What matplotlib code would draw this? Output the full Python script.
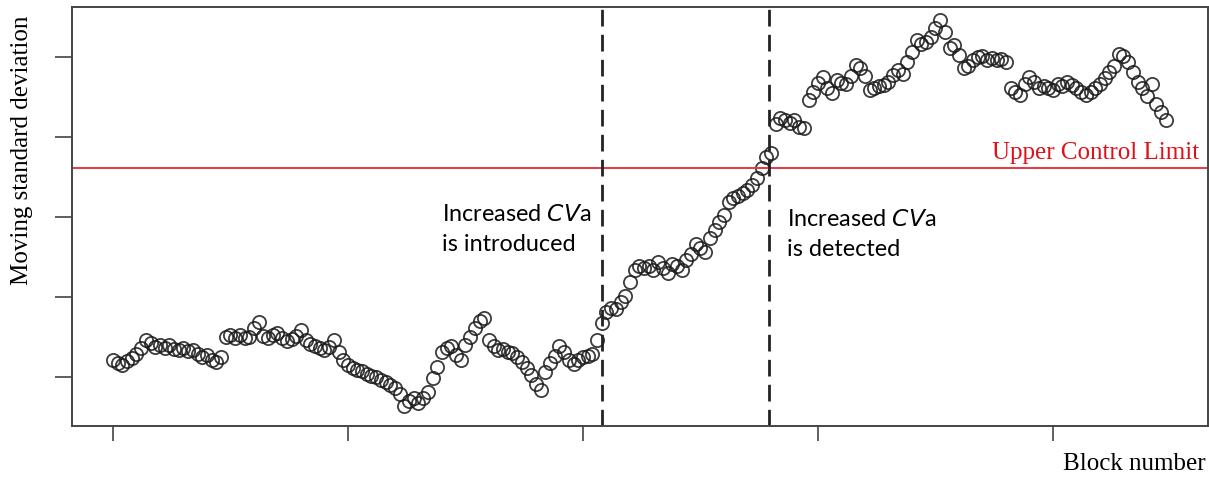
import numpy as np
import matplotlib.pyplot as plt

# moving SD per block (every 2nd block shown)
blocks = np.arange(0, 450, 2)
msd = [
    12.1, 11.8, 11.5, 12.0, 12.4, 12.9, 13.6, 14.6, 14.3, 13.8,
    14.0, 13.6, 14.0, 13.5, 13.4, 13.6, 13.3, 13.4, 12.9, 12.5,
    12.8, 12.1, 11.9, 12.5, 15.0, 15.3, 14.9, 15.3, 14.9, 15.0,
    16.1, 16.9, 15.1, 14.9, 15.3, 15.5, 14.9, 14.5, 14.8, 15.1,
    15.9, 14.6, 14.1, 13.9, 13.6, 13.4, 13.8, 14.6, 13.1, 12.1,
    11.5, 11.1, 10.9, 10.8, 10.4, 10.1, 10.0, 9.6, 9.4, 9.0,
    8.6, 7.9, 6.4, 7.0, 7.4, 6.8, 7.4, 8.1, 9.9, 11.3,
    13.1, 13.6, 13.9, 12.8, 12.1, 14.0, 15.0, 16.1, 17.0, 17.4,
    14.6, 13.9, 13.4, 13.5, 13.1, 13.0, 12.5, 11.9, 11.1, 10.3,
    9.1, 8.4, 10.6, 11.8, 12.6, 13.9, 13.1, 12.1, 11.6, 12.1,
    12.5, 12.6, 12.9, 14.6, 16.8, 18.1, 18.6, 18.5, 19.4, 20.1,
    21.9, 23.4, 23.9, 23.6, 23.9, 23.4, 24.4, 23.6, 23.0, 24.1,
    23.9, 23.4, 24.6, 25.4, 26.6, 26.1, 25.6, 27.4, 28.4, 29.4,
    30.3, 31.9, 32.4, 32.6, 33.0, 33.4, 34.0, 34.9, 36.1, 37.5,
    38.0, 41.6, 42.4, 42.1, 41.8, 42.1, 41.3, 41.1, 44.6, 45.6,
    46.8, 47.5, 46.1, 45.5, 47.1, 46.8, 46.6, 47.6, 49.0, 48.6,
    47.6, 45.9, 46.1, 46.4, 46.5, 46.9, 47.8, 48.4, 47.9, 49.4,
    50.6, 52.1, 51.6, 51.9, 52.5, 53.6, 54.6, 53.1, 51.1, 51.5,
    50.3, 48.6, 48.9, 49.6, 50.0, 50.1, 49.6, 49.9, 49.6, 49.8,
    49.4, 46.1, 45.6, 45.3, 46.6, 47.5, 46.9, 46.1, 46.4, 46.1,
    45.9, 46.6, 46.4, 46.9, 46.5, 46.1, 45.6, 45.3, 45.6, 46.1,
    46.6, 47.4, 48.1, 48.9, 50.4, 50.1, 49.4, 48.1, 46.9, 46.1,
    45.1, 46.6, 44.1, 43.1, 42.1,
]
ucl = 36.1
introduced_at = 208
detected_at = 279
xticks = [0, 100, 200, 300, 400]
yticks = [10, 20, 30, 40, 50]

fig = plt.figure(figsize=(12.09, 4.79), dpi=100)
ax = fig.add_axes([0.0596, 0.1106, 0.9396, 0.8748])

ax.plot(blocks, msd, 'o', mfc='none', mec='#1a1a1a', mew=1.3, ms=9.5, alpha=0.85)
ax.axhline(ucl, color='#e8383d', lw=1.4)
for xv in [introduced_at, detected_at]:
    ax.axvline(xv, color='#222222', lw=2, dashes=(6, 3))

ax.set_xlim(-17.4, 466)
ax.set_ylim(3.875, 56.25)
ax.set_xticks(xticks)
ax.set_yticks(yticks)
ax.set_xticklabels([])
ax.set_yticklabels([])
ax.tick_params(axis='x', length=11, width=1.2, color='#444444')
ax.tick_params(axis='y', length=12, width=1.2, color='#444444')
for s in ax.spines.values():
    s.set_color('#444444')
    s.set_linewidth(1.4)

serif = 'Liberation Serif'
fig.text(0.018, 0.687, 'Moving standard deviation', rotation=90, ha='center',
         va='center', family=serif, fontsize=18)
fig.text(0.997, 0.008, 'Block number', ha='right', va='bottom', family=serif, fontsize=18)
ax.text(462, ucl + 0.5, 'Upper Control Limit', color='#dd1219', ha='right',
        va='bottom', family=serif, fontsize=18)

ax.text(140, 28.4, 'Increased $\\mathit{CV}$a\nis introduced', family='Lato',
        fontsize=16.8, ha='left', va='center', linespacing=1.55)
ax.text(287, 27.8, 'Increased $\\mathit{CV}$a\nis detected', family='Lato',
        fontsize=16.8, ha='left', va='center', linespacing=1.55)

fig.savefig('out.png', dpi=100)
